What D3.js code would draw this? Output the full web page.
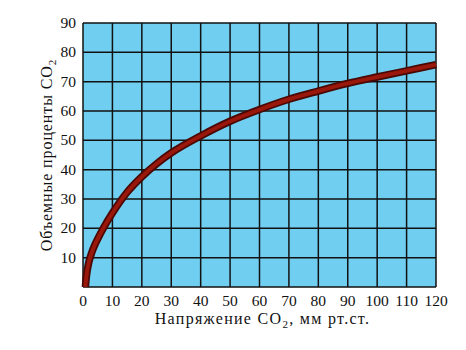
<!DOCTYPE html>
<html><head><meta charset="utf-8">
<script src="https://cdn.jsdelivr.net/npm/d3@7"></script>
<style>body{margin:0;background:#fff}svg{display:block}</style>
</head><body>
<svg id="c" width="466" height="350"></svg>
<script>
const pressure = [0.8, 1.2, 2, 3, 4, 5, 7, 10, 15, 20, 25, 30, 40, 50, 60, 70, 80, 90, 100, 110, 120];
const volumePct = [0, 4, 8.5, 11.8, 14.3, 16.4, 20.2, 25.2, 32.3, 37.6, 42, 45.7, 51.5, 56.5, 60.5, 64, 66.8, 69.4, 71.6, 73.7, 75.8];
const xTicks = [0,10,20,30,40,50,60,70,80,90,100,110,120];
const yTicks = [10,20,30,40,50,60,70,80,90];
const xTitle = "Напряжение CO";
const xTitleRest = ", мм рт.ст.";
const yTitle = "Объемные проценты CO";

const svg = d3.select("#c");
const L = 83, R = 436, T = 23, B = 287;
const x = d3.scaleLinear().domain([0,120]).range([L,R]);
const y = d3.scaleLinear().domain([0,90]).range([B,T]);

svg.append("rect").attr("x",L).attr("y",T).attr("width",R-L).attr("height",B-T).attr("fill","#70cff0");

const g = svg.append("g");
g.selectAll(".vx").data(xTicks).join("line")
  .attr("x1",d=>x(d)).attr("x2",d=>x(d)).attr("y1",T).attr("y2",B)
  .attr("stroke","#111").attr("stroke-width",1.5);
g.selectAll(".hy").data([0].concat(yTicks)).join("line")
  .attr("y1",d=>y(d)).attr("y2",d=>y(d)).attr("x1",L).attr("x2",R)
  .attr("stroke","#111").attr("stroke-width",1.5);

const font = "'Liberation Serif', 'DejaVu Serif', serif";
svg.selectAll(".xt").data(xTicks).join("text")
  .attr("x",d=>x(d)).attr("y",306).attr("text-anchor","middle")
  .attr("font-family",font).attr("font-size",15.5).attr("fill","#111").text(d=>d);
svg.selectAll(".yt").data(yTicks).join("text")
  .attr("x",76).attr("y",d=>y(d)+5).attr("text-anchor","end")
  .attr("font-family",font).attr("font-size",15.5).attr("fill","#111").text(d=>d);

const xt = svg.append("text").attr("x",(L+R)/2+3).attr("y",324).attr("text-anchor","middle")
  .attr("font-family",font).attr("font-size",16).attr("fill","#111").attr("letter-spacing",1.3);
xt.append("tspan").text(xTitle);
xt.append("tspan").attr("dy",4).attr("font-size",11).text("2");
xt.append("tspan").attr("dy",-4).text(xTitleRest);

const yt = svg.append("text").attr("transform",`translate(52,${(T+B)/2}) rotate(-90)`).attr("text-anchor","middle")
  .attr("font-family",font).attr("font-size",16).attr("fill","#111").attr("letter-spacing",0.9);
yt.append("tspan").text(yTitle);
yt.append("tspan").attr("dy",4).attr("font-size",11).text("2");

const pts = pressure.map((p,i)=>[p, volumePct[i]]);
const line = d3.line().x(d=>x(d[0])).y(d=>y(d[1])).curve(d3.curveMonotoneX);
svg.append("path").datum(pts).attr("d",line).attr("fill","none")
  .attr("stroke","#4a0805").attr("stroke-width",7.5).attr("stroke-linecap","butt");
svg.append("path").datum(pts).attr("d",line).attr("fill","none")
  .attr("stroke","#9a170b").attr("stroke-width",4).attr("stroke-linecap","butt");
</script>
</body></html>
